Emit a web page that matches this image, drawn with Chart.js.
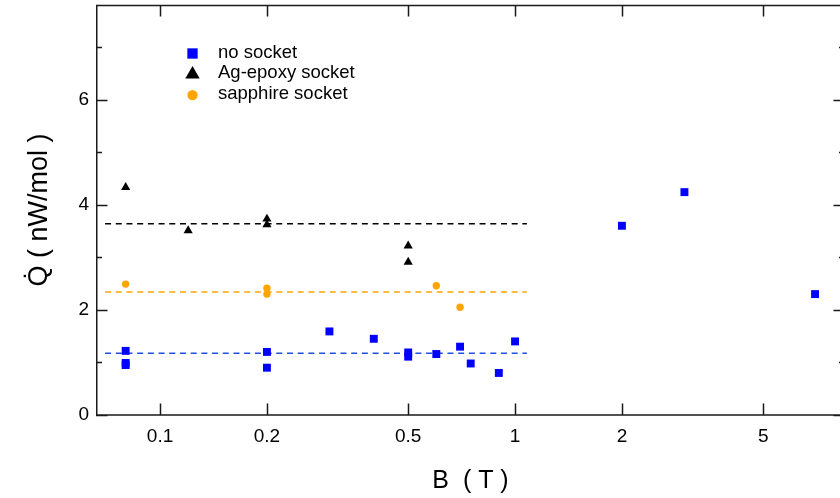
<!DOCTYPE html>
<html>
<head>
    <title>Q vs B</title>
    <meta charset="utf-8">
    <script src="https://cdn.jsdelivr.net/npm/chart.js@4"></script>
    <style>
        html, body { margin: 0; padding: 0; background: #fff; overflow: hidden; }
    </style>
    <script type="text/javascript">

        // B (T) and Q (nW/mol)
        var noSocketB = [0.08, 0.08, 0.08, 0.2, 0.2, 0.3, 0.4, 0.5, 0.5, 0.6, 0.7, 0.75, 0.9, 1.0, 2, 3, 7];
        var noSocketQ = [1.22, 0.99, 0.95, 1.2, 0.9, 1.59, 1.45, 1.19, 1.11, 1.16, 1.30, 0.98, 0.80, 1.40, 3.6, 4.24, 2.3];
        var agEpoxyB = [0.08, 0.12, 0.2, 0.2, 0.5, 0.5];
        var agEpoxyQ = [4.33, 3.51, 3.73, 3.62, 3.22, 2.91];
        var sapphireB = [0.08, 0.2, 0.2, 0.6, 0.7];
        var sapphireQ = [2.49, 2.41, 2.30, 2.46, 2.05];

        // dashed mean lines
        var meanRangeB = [0.07, 1.08];
        var meanNoSocket = 1.175;
        var meanAgEpoxy = 3.64;
        var meanSapphire = 2.34;

        // axes
        var xTickValues = [0.1, 0.2, 0.5, 1, 2, 5];
        var yTickValues = [0, 2, 4, 6];
        var yMinorValues = [1, 3, 5, 7];

        function points(xs, ys) {
            return xs.map(function (x, i) { return { x: x, y: ys[i] }; });
        }

        function meanLine(q) {
            return meanRangeB.map(function (b) { return { x: b, y: q }; });
        }

        // frame with inward ticks on all four sides
        var axisFrame = {
            id: 'axisFrame',
            beforeDatasetsDraw: function (chart) {
                var ctx = chart.ctx, a = chart.chartArea;
                var xs = chart.scales.x, ys = chart.scales.y;
                var major = 11.5, minor = 6;
                ctx.save();
                ctx.strokeStyle = '#1a1a1a';
                ctx.lineWidth = 1.5;
                ctx.beginPath();
                ctx.rect(a.left + 0.75, a.top + 0.5, a.right - a.left - 1.5, a.bottom - a.top - 0.5);
                xTickValues.forEach(function (v) {
                    var px = Math.round(xs.getPixelForValue(v)) + 0.5;
                    ctx.moveTo(px, a.bottom); ctx.lineTo(px, a.bottom - major);
                    ctx.moveTo(px, a.top); ctx.lineTo(px, a.top + major);
                });
                yTickValues.forEach(function (v) {
                    var py = Math.round(ys.getPixelForValue(v)) + 0.5;
                    ctx.moveTo(a.left, py); ctx.lineTo(a.left + major, py);
                    ctx.moveTo(a.right, py); ctx.lineTo(a.right - major, py);
                });
                yMinorValues.forEach(function (v) {
                    var py = Math.round(ys.getPixelForValue(v)) + 0.5;
                    ctx.moveTo(a.left, py); ctx.lineTo(a.left + minor, py);
                    ctx.moveTo(a.right, py); ctx.lineTo(a.right - minor, py);
                });
                ctx.stroke();
                ctx.restore();
            }
        };

        // legend drawn inside the plot, only for the marker series
        var insideLegend = {
            id: 'insideLegend',
            afterDraw: function (chart) {
                var ctx = chart.ctx;
                var rows = chart.data.datasets.filter(function (d) { return !d.showLine; });
                ctx.save();
                ctx.font = '18.5px "Liberation Sans", Arial, sans-serif';
                ctx.textBaseline = 'middle';
                rows.forEach(function (d, i) {
                    var y = 53.5 + i * 20.8;
                    ctx.fillStyle = d.backgroundColor;
                    Chart.helpers.drawPoint(ctx, {
                        pointStyle: d.pointStyle, radius: d.legendRadius, rotation: 0, borderWidth: 0
                    }, 192.5, y);
                    ctx.fillStyle = '#000';
                    ctx.fillText(d.label, 218, y - 1);
                });
                ctx.restore();
            }
        };

        window.onload = function () {
            Chart.defaults.font.family = '"Liberation Sans", Arial, sans-serif';
            Chart.defaults.color = '#000';

            var ctx = document.getElementById('qChart').getContext('2d');
            new Chart(ctx, {
                type: 'scatter',
                data: {
                    datasets: [{
                        label: 'no socket',
                        data: points(noSocketB, noSocketQ),
                        pointStyle: 'rect',
                        pointRadius: 5.6,
                        legendRadius: 7.3,
                        backgroundColor: '#0000ff',
                        borderWidth: 0
                    }, {
                        label: 'Ag-epoxy socket',
                        data: points(agEpoxyB, agEpoxyQ),
                        pointStyle: 'triangle',
                        pointRadius: 5.3,
                        legendRadius: 8.3,
                        backgroundColor: '#000000',
                        borderWidth: 0
                    }, {
                        label: 'sapphire socket',
                        data: points(sapphireB, sapphireQ),
                        pointStyle: 'circle',
                        pointRadius: 3.7,
                        legendRadius: 5.2,
                        backgroundColor: '#ffa500',
                        borderWidth: 0
                    }, {
                        label: '',
                        data: meanLine(meanAgEpoxy),
                        showLine: true,
                        pointRadius: 0,
                        borderColor: '#000000',
                        borderWidth: 1.5,
                        borderDash: [6, 4.7]
                    }, {
                        label: '',
                        data: meanLine(meanSapphire),
                        showLine: true,
                        pointRadius: 0,
                        borderColor: '#ffa500',
                        borderWidth: 1.5,
                        borderDash: [6, 4.7]
                    }, {
                        label: '',
                        data: meanLine(meanNoSocket),
                        showLine: true,
                        pointRadius: 0,
                        borderColor: '#2050e0',
                        borderWidth: 1.5,
                        borderDash: [6, 4.7]
                    }]
                },
                options: {
                    responsive: false,
                    animation: false,
                    events: [],
                    layout: { autoPadding: false, padding: { top: 5, right: 0, left: 0, bottom: 0 } },
                    plugins: {
                        legend: { display: false },
                        tooltip: { enabled: false }
                    },
                    scales: {
                        x: {
                            type: 'logarithmic',
                            min: 0.066,
                            max: 8.5,
                            grid: { display: false, drawTicks: false },
                            border: { display: false },
                            afterBuildTicks: function (s) {
                                s.ticks = xTickValues.map(function (v) { return { value: v }; });
                            },
                            afterFit: function (s) {
                                s.height = 83;
                                s.paddingLeft = 0;
                                s.paddingRight = 0;
                            },
                            ticks: {
                                padding: 10,
                                maxRotation: 0,
                                autoSkip: false,
                                font: { size: 19 },
                                callback: function (v) { return String(v); }
                            },
                            title: {
                                display: true,
                                text: 'B  ( T )',
                                font: { size: 25 },
                                padding: { top: 0, bottom: 2 }
                            }
                        },
                        y: {
                            type: 'linear',
                            min: 0,
                            max: 7.8,
                            grid: { display: false, drawTicks: false },
                            border: { display: false },
                            afterBuildTicks: function (s) {
                                s.ticks = yTickValues.map(function (v) { return { value: v }; });
                            },
                            afterFit: function (s) {
                                s.width = 96;
                                s.paddingTop = 0;
                                s.paddingBottom = 0;
                            },
                            ticks: {
                                padding: 7,
                                font: { size: 19 },
                                callback: function (v) { return String(v); }
                            },
                            title: {
                                display: true,
                                text: 'Q\u0307 ( nW/mol )',
                                font: { size: 27 },
                                padding: { top: 23, bottom: 0 }
                            }
                        }
                    }
                },
                plugins: [axisFrame, insideLegend]
            });
        };

    </script>
</head>
<body>
    <canvas id="qChart" width="845" height="498"></canvas>
</body>
</html>
